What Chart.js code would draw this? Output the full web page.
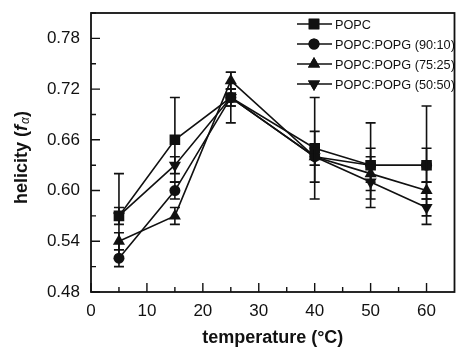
<!DOCTYPE html>
<html>
<head>
<meta charset="utf-8">
<script src="https://cdn.jsdelivr.net/npm/chart.js@4.4.1/dist/chart.umd.min.js"></script>
<style>
  body { margin: 0; background: #fff; }
  canvas { display: block; }
</style>
</head>
<body>
<canvas id="helixChart" width="462" height="350"></canvas>
<script>
// datos
var temps = [5, 15, 25, 40, 50, 60];
var popc = [0.57, 0.66, 0.71, 0.65, 0.63, 0.63];
var popcErr = [0.05, 0.05, 0.03, 0.06, 0.05, 0.07];
var pg9010 = [0.52, 0.60, 0.71, 0.64, 0.63, 0.63];
var pg9010Err = [0.01, 0.01, 0.01, 0.03, 0.02, 0.02];
var pg7525 = [0.54, 0.57, 0.73, 0.64, 0.62, 0.60];
var pg7525Err = [0.01, 0.01, 0.01, 0.01, 0.02, 0.01];
var pg5050 = [0.57, 0.63, 0.71, 0.64, 0.61, 0.58];
var pg5050Err = [0.01, 0.01, 0.01, 0.01, 0.02, 0.01];
var seriesNames = ['POPC', 'POPC:POPG (90:10)', 'POPC:POPG (75:25)', 'POPC:POPG (50:50)'];
var xTicks = [0, 5, 10, 15, 20, 25, 30, 35, 40, 45, 50, 55, 60];
var yTicks = [0.48, 0.51, 0.54, 0.57, 0.60, 0.63, 0.66, 0.69, 0.72, 0.75, 0.78, 0.81];

var FONT = '"Liberation Sans", Arial, Helvetica, sans-serif';
var INK = '#111';

function makeSet(label, values, errs, style, rot, radius) {
    return {
        label: label,
        data: temps.map(function (t, i) { return { x: t, y: values[i] }; }),
        errors: errs,
        borderColor: INK,
        backgroundColor: INK,
        borderWidth: 1.6,
        pointStyle: style,
        rotation: rot,
        pointRadius: radius,
        pointHoverRadius: radius,
        pointBorderWidth: 0,
        tension: 0
    };
}

// barras de error
var errorBars = {
    id: 'errorBars',
    afterDatasetsDraw: function (chart) {
        var ctx = chart.ctx, xs = chart.scales.x, ys = chart.scales.y;
        ctx.save();
        ctx.strokeStyle = INK;
        ctx.lineWidth = 1.6;
        chart.data.datasets.forEach(function (ds) {
            ds.data.forEach(function (p, i) {
                var e = ds.errors[i];
                var px = xs.getPixelForValue(p.x);
                var top = ys.getPixelForValue(p.y + e);
                var bot = ys.getPixelForValue(p.y - e);
                ctx.beginPath();
                ctx.moveTo(px, top); ctx.lineTo(px, bot);
                ctx.moveTo(px - 5, top); ctx.lineTo(px + 5, top);
                ctx.moveTo(px - 5, bot); ctx.lineTo(px + 5, bot);
                ctx.stroke();
            });
        });
        ctx.restore();
    }
};

// marco, marcas hacia dentro, titulos y leyenda
var frame = {
    id: 'frame',
    afterDraw: function (chart) {
        var ctx = chart.ctx, a = chart.chartArea;
        var xs = chart.scales.x, ys = chart.scales.y;
        ctx.save();
        ctx.strokeStyle = INK;
        ctx.lineWidth = 1.8;
        ctx.strokeRect(a.left, a.top, a.right - a.left, a.bottom - a.top);

        ctx.lineWidth = 1.4;
        ctx.beginPath();
        xs.ticks.forEach(function (t) {
            var px = xs.getPixelForValue(t.value);
            var len = t.value % 10 === 0 ? 9 : 5;
            ctx.moveTo(px, a.bottom); ctx.lineTo(px, a.bottom - len);
        });
        ys.ticks.forEach(function (t, i) {
            var py = ys.getPixelForValue(t.value);
            var len = i % 2 === 0 ? 9 : 5;
            ctx.moveTo(a.left, py); ctx.lineTo(a.left + len, py);
        });
        ctx.stroke();

        // titulo eje x
        ctx.fillStyle = INK;
        ctx.font = 'bold 18px ' + FONT;
        ctx.textAlign = 'center';
        ctx.textBaseline = 'middle';
        ctx.fillText('temperature (°C)', (a.left + a.right) / 2, 338);

        // titulo eje y con f en cursiva y alfa como subindice
        ctx.translate(22, 158);
        ctx.rotate(-Math.PI / 2);
        var parts = [
            { t: 'helicity (', f: 'bold 18px ' + FONT, dy: 0 },
            { t: 'f', f: 'italic bold 18px ' + FONT, dy: 0 },
            { t: 'α', f: 'italic 12px ' + FONT, dy: 4 },
            { t: ')', f: 'bold 18px ' + FONT, dy: 0 }
        ];
        var total = 0;
        parts.forEach(function (p) { ctx.font = p.f; p.w = ctx.measureText(p.t).width; total += p.w; });
        var cx = -total / 2;
        ctx.textAlign = 'left';
        parts.forEach(function (p) {
            ctx.font = p.f;
            ctx.fillText(p.t, cx, p.dy);
            cx += p.w + (p.t === 'f' ? 1 : 0);
        });
        ctx.setTransform(1, 0, 0, 1, 0, 0);

        // leyenda
        ctx.font = '12.7px ' + FONT;
        ctx.textAlign = 'left';
        ctx.textBaseline = 'middle';
        chart.data.datasets.forEach(function (ds, i) {
            var ly = 24 + i * 20;
            ctx.lineWidth = 1.6;
            ctx.beginPath();
            ctx.moveTo(297, ly); ctx.lineTo(332, ly);
            ctx.stroke();
            Chart.helpers.drawPoint(ctx, {
                pointStyle: ds.pointStyle, rotation: ds.rotation,
                radius: ds.pointRadius, borderWidth: 0
            }, 314, ly);
            ctx.fill();
            ctx.fillText(ds.label, 335, ly + 1);
        });
        ctx.restore();
    }
};

var ctxHelix = document.getElementById('helixChart').getContext('2d');
var helixChart = new Chart(ctxHelix, {
    type: 'line',
    data: {
        datasets: [
            makeSet(seriesNames[0], popc, popcErr, 'rect', 0, 7.5),
            makeSet(seriesNames[1], pg9010, pg9010Err, 'circle', 0, 5.5),
            makeSet(seriesNames[2], pg7525, pg7525Err, 'triangle', 0, 7),
            makeSet(seriesNames[3], pg5050, pg5050Err, 'triangle', 180, 7)
        ]
    },
    options: {
        responsive: false,
        devicePixelRatio: 1,
        animation: false,
        layout: { padding: { top: 13, right: 2, left: 0, bottom: 0 } },
        plugins: {
            legend: { display: false },
            tooltip: { enabled: false }
        },
        scales: {
            x: {
                type: 'linear',
                min: 0,
                max: 65,
                afterBuildTicks: function (axis) {
                    axis.ticks = xTicks.map(function (v) { return { value: v }; });
                },
                afterFit: function (axis) {
                    axis.height = 58;
                    axis.paddingLeft = 0;
                    axis.paddingRight = 0;
                },
                grid: { display: false, drawTicks: false },
                border: { display: false },
                ticks: {
                    autoSkip: false,
                    maxRotation: 0,
                    padding: 9,
                    color: INK,
                    font: { size: 17, family: FONT },
                    callback: function (value) { return value % 10 === 0 ? String(value) : ''; }
                }
            },
            y: {
                min: 0.48,
                max: 0.81,
                afterBuildTicks: function (axis) {
                    axis.ticks = yTicks.map(function (v) { return { value: v }; });
                },
                afterFit: function (axis) {
                    axis.width = 91;
                    axis.paddingTop = 0;
                    axis.paddingBottom = 0;
                },
                grid: { display: false, drawTicks: false },
                border: { display: false },
                ticks: {
                    autoSkip: false,
                    padding: 11,
                    color: INK,
                    font: { size: 17, family: FONT },
                    callback: function (value, index) {
                        return index % 2 === 0 && index < 11 ? value.toFixed(2) : '';
                    }
                }
            }
        }
    },
    plugins: [errorBars, frame]
});
</script>
</body>
</html>
